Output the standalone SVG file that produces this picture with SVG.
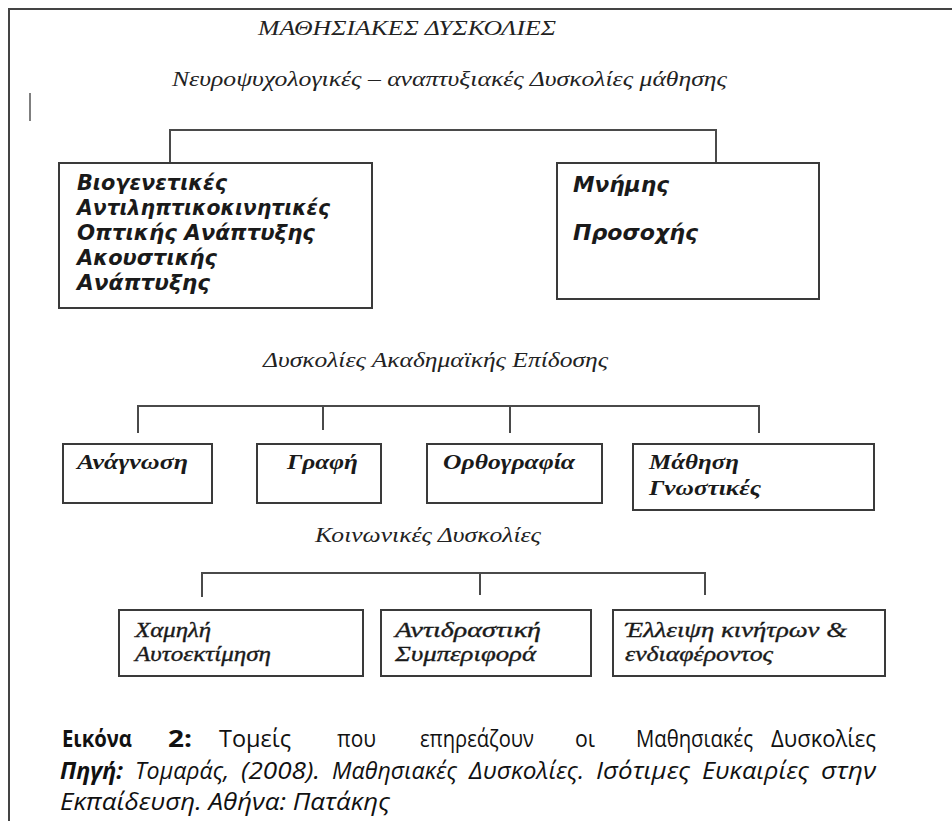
<svg xmlns="http://www.w3.org/2000/svg" width="952" height="821" viewBox="0 0 952 821">
<style>
.frame{fill:none;stroke:#444;stroke-width:2}
.box{fill:#fff;stroke:#3a3a3a;stroke-width:2}
.con{fill:none;stroke:#4a4a4a;stroke-width:2}
.hd{font-family:"Liberation Serif",serif;font-style:italic;font-size:20px;fill:#222}
.sans{font-family:"DejaVu Sans","Liberation Sans",sans-serif;font-style:oblique;font-weight:bold;font-size:21px;fill:#1a1a1a}
.sb{font-family:"Liberation Serif",serif;font-style:italic;font-weight:bold;font-size:22px;fill:#1a1a1a}
.si{font-family:"Liberation Serif",serif;font-style:italic;font-size:21px;fill:#1a1a1a;stroke:#1a1a1a;stroke-width:0.35}
.cap{font-family:"Open Sans","Noto Sans",sans-serif;font-size:23px;fill:#111}
.capi{font-family:"Open Sans","Noto Sans",sans-serif;font-size:23px;font-style:italic;fill:#111}
.b{font-weight:bold}
</style>
<rect width="952" height="821" fill="#fff"/>
<g id="frame">
<path class="frame" d="M9,821 V9 H952"/>
<path d="M30,93 V121" stroke="#555" stroke-width="1.5"/>
</g>
<g id="titles">
<text class="hd" x="258" y="35" textLength="298" lengthAdjust="spacingAndGlyphs">ΜΑΘΗΣΙΑΚΕΣ ΔΥΣΚΟΛΙΕΣ</text>
<text class="hd" x="172" y="86" textLength="555" lengthAdjust="spacingAndGlyphs">Νευροψυχολογικές – αναπτυξιακές Δυσκολίες μάθησης</text>
<text class="hd" x="263" y="367" textLength="345" lengthAdjust="spacingAndGlyphs">Δυσκολίες Ακαδημαϊκής Επίδοσης</text>
<text class="hd" x="315" y="542" textLength="226" lengthAdjust="spacingAndGlyphs">Κοινωνικές Δυσκολίες</text>
</g>
<g id="connectors">
<path class="con" d="M170,162 V130 H716 V162"/>
<path class="con" d="M138,433 V406 H759 V433 M323,406 V430 M510,406 V433"/>
<path class="con" d="M202,597 V573 H705 V595 M480,573 V595"/>
</g>
<g id="n-neuro">
<rect class="box" x="59" y="163" width="313" height="145"/>
<text class="sans" x="77" y="190" textLength="150" lengthAdjust="spacingAndGlyphs">Βιογενετικές</text>
<text class="sans" x="77" y="215" textLength="253" lengthAdjust="spacingAndGlyphs">Αντιληπτικοκινητικές</text>
<text class="sans" x="77" y="240" textLength="238" lengthAdjust="spacingAndGlyphs">Οπτικής Ανάπτυξης</text>
<text class="sans" x="77" y="265" textLength="140" lengthAdjust="spacingAndGlyphs">Ακουστικής</text>
<text class="sans" x="77" y="290" textLength="133" lengthAdjust="spacingAndGlyphs">Ανάπτυξης</text>
</g>
<g id="n-memory">
<rect class="box" x="557" y="163" width="262" height="136"/>
<text class="sans" x="573" y="192" textLength="96" lengthAdjust="spacingAndGlyphs">Μνήμης</text>
<text class="sans" x="573" y="240" textLength="125" lengthAdjust="spacingAndGlyphs">Προσοχής</text>
</g>
<g id="n-reading">
<rect class="box" x="63" y="444" width="149" height="59"/>
<text class="sb" x="77" y="469" textLength="111" lengthAdjust="spacingAndGlyphs">Ανάγνωση</text>
</g>
<g id="n-writing">
<rect class="box" x="257" y="444" width="124" height="59"/>
<text class="sb" x="287" y="469" textLength="71" lengthAdjust="spacingAndGlyphs">Γραφή</text>
</g>
<g id="n-spelling">
<rect class="box" x="427" y="444" width="175" height="59"/>
<text class="sb" x="443" y="469" textLength="132" lengthAdjust="spacingAndGlyphs">Ορθογραφία</text>
</g>
<g id="n-cognitive">
<rect class="box" x="633" y="444" width="241" height="66"/>
<text class="sb" x="649" y="469" textLength="90" lengthAdjust="spacingAndGlyphs">Μάθηση</text>
<text class="sb" x="649" y="495" textLength="112" lengthAdjust="spacingAndGlyphs">Γνωστικές</text>
</g>
<g id="n-selfesteem">
<rect class="box" x="119" y="610" width="244" height="66"/>
<text class="si" x="135" y="637" textLength="76" lengthAdjust="spacingAndGlyphs">Χαμηλή</text>
<text class="si" x="135" y="661" textLength="136" lengthAdjust="spacingAndGlyphs">Αυτοεκτίμηση</text>
</g>
<g id="n-behaviour">
<rect class="box" x="381" y="610" width="210" height="66"/>
<text class="si" x="395" y="637" textLength="146" lengthAdjust="spacingAndGlyphs">Αντιδραστική</text>
<text class="si" x="395" y="661" textLength="141" lengthAdjust="spacingAndGlyphs">Συμπεριφορά</text>
</g>
<g id="n-motivation">
<rect class="box" x="613" y="610" width="272" height="66"/>
<text class="si" x="625" y="637" textLength="222" lengthAdjust="spacingAndGlyphs">Έλλειψη κινήτρων &amp;</text>
<text class="si" x="625" y="661" textLength="148" lengthAdjust="spacingAndGlyphs">ενδιαφέροντος</text>
</g>
<g id="caption">
<text class="cap b" x="62" y="747" textLength="70" lengthAdjust="spacingAndGlyphs">Εικόνα</text>
<text class="cap b" x="168" y="747" textLength="24" lengthAdjust="spacingAndGlyphs">2:</text>
<text class="cap" x="219" y="747" textLength="72" lengthAdjust="spacingAndGlyphs">Τομείς</text>
<text class="cap" x="337" y="747" textLength="39" lengthAdjust="spacingAndGlyphs">που</text>
<text class="cap" x="420" y="747" textLength="114" lengthAdjust="spacingAndGlyphs">επηρεάζουν</text>
<text class="cap" x="575" y="747" textLength="20" lengthAdjust="spacingAndGlyphs">οι</text>
<text class="cap" x="636" y="747" textLength="117" lengthAdjust="spacingAndGlyphs">Μαθησιακές</text>
<text class="cap" x="771" y="747" textLength="105" lengthAdjust="spacingAndGlyphs">Δυσκολίες</text>
<text class="capi b" x="60" y="779" textLength="63" lengthAdjust="spacingAndGlyphs">Πηγή:</text>
<text class="capi" x="135" y="779" textLength="94" lengthAdjust="spacingAndGlyphs">Τομαράς,</text>
<text class="capi" x="241" y="779" textLength="79" lengthAdjust="spacingAndGlyphs">(2008).</text>
<text class="capi" x="332" y="779" textLength="125" lengthAdjust="spacingAndGlyphs">Μαθησιακές</text>
<text class="capi" x="469" y="779" textLength="115" lengthAdjust="spacingAndGlyphs">Δυσκολίες.</text>
<text class="capi" x="596" y="779" textLength="94" lengthAdjust="spacingAndGlyphs">Ισότιμες</text>
<text class="capi" x="702" y="779" textLength="107" lengthAdjust="spacingAndGlyphs">Ευκαιρίες</text>
<text class="capi" x="821" y="779" textLength="55" lengthAdjust="spacingAndGlyphs">στην</text>
<text class="capi" x="60" y="810" textLength="330" lengthAdjust="spacingAndGlyphs">Εκπαίδευση. Αθήνα: Πατάκης</text>
</g>
</svg>
